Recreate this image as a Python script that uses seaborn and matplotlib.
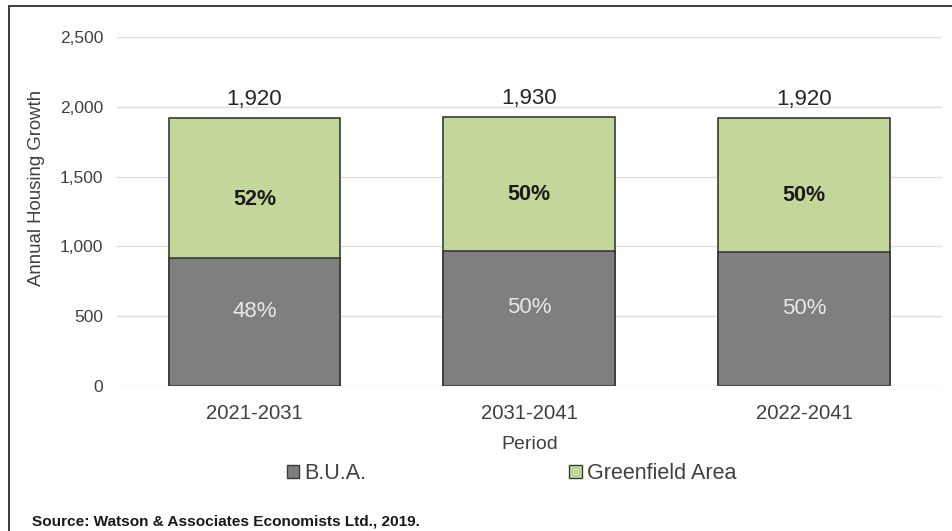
import numpy as np
import pandas as pd
import seaborn as sns
import matplotlib.pyplot as plt
from matplotlib.patches import Patch, Rectangle

# values
periods = ["2021-2031", "2031-2041", "2022-2041"]
bua = [920, 965, 960]
greenfield = [1000, 965, 960]
totals = [1920, 1930, 1920]
bua_pct = ["48%", "50%", "50%"]
green_pct = ["52%", "50%", "50%"]

gray = "#7f7f7f"
green = "#c4d79b"
edge = "#3a3a3a"

sns.set_theme(style="white")
plt.rcParams["font.family"] = ["Liberation Sans", "DejaVu Sans"]

df = pd.DataFrame({"Period": periods, "B.U.A.": bua, "Greenfield Area": greenfield})
df["stack"] = df["B.U.A."] + df["Greenfield Area"]

fig = plt.figure(figsize=(9.52, 5.31), dpi=100)
ax = fig.add_axes([0.123, 0.273, 0.866, 0.657])

sns.barplot(data=df, x="Period", y="stack", color=green, width=0.625,
            edgecolor=edge, linewidth=1.2, saturation=1, ax=ax)
sns.barplot(data=df, x="Period", y="B.U.A.", color=gray, width=0.625,
            edgecolor=edge, linewidth=1.2, saturation=1, ax=ax)

ax.set_ylim(0, 2500)
ax.set_yticks(np.arange(0, 2501, 500))
ax.set_yticklabels([f"{v:,}" for v in range(0, 2501, 500)])
ax.yaxis.grid(True, color="#dedede", linewidth=1)
ax.set_axisbelow(True)
for s in ax.spines.values():
    s.set_visible(False)
ax.tick_params(axis="y", labelsize=12.5, colors="#404040", pad=10, length=0)
ax.tick_params(axis="x", labelsize=14.6, colors="#404040", pad=13, length=0)
ax.set_xlim(-0.5, 2.5)

ax.set_xlabel("Period", fontsize=14, color="#404040", labelpad=9)
ax.set_ylabel("Annual Housing Growth", fontsize=13.4, color="#404040", labelpad=10)
ax.yaxis.set_label_coords(-0.088, 0.567)

for i in range(len(periods)):
    ax.text(i, totals[i] + 130, f"{totals[i]:,}", ha="center", va="center",
            fontsize=16, color="#262626")
    ax.text(i, bua[i] + greenfield[i] * 0.42, green_pct[i], ha="center", va="center",
            fontsize=15.5, fontweight="bold", color="#1a1a1a")
    ax.text(i, bua[i] * 0.58, bua_pct[i], ha="center", va="center",
            fontsize=16, color="#e8e8e8")

handles = [Patch(facecolor=gray, edgecolor=edge, label="B.U.A."),
           Patch(facecolor=green, edgecolor=edge, label="Greenfield Area")]
fig.legend(handles=handles, loc="center", bbox_to_anchor=(0.537, 0.108), ncol=2,
           frameon=False, fontsize=15.5, handlelength=0.6, handleheight=0.6,
           handletextpad=0.2, columnspacing=9.45, labelcolor="#404040")

fig.text(32 / 952, 1 - 521 / 531, "Source: Watson & Associates Economists Ltd., 2019.",
         fontsize=11.1, fontweight="bold", color="#1a1a1a", va="center", ha="left")

# outer frame, cut off at the right and bottom edges
fig.patches.append(Rectangle((9 / 952, -0.1), 1.1, 1 - 6 / 531 + 0.1,
                             transform=fig.transFigure, fill=False,
                             edgecolor="#3c3c3c", linewidth=1.4))

fig.savefig("out.png", dpi=100)
